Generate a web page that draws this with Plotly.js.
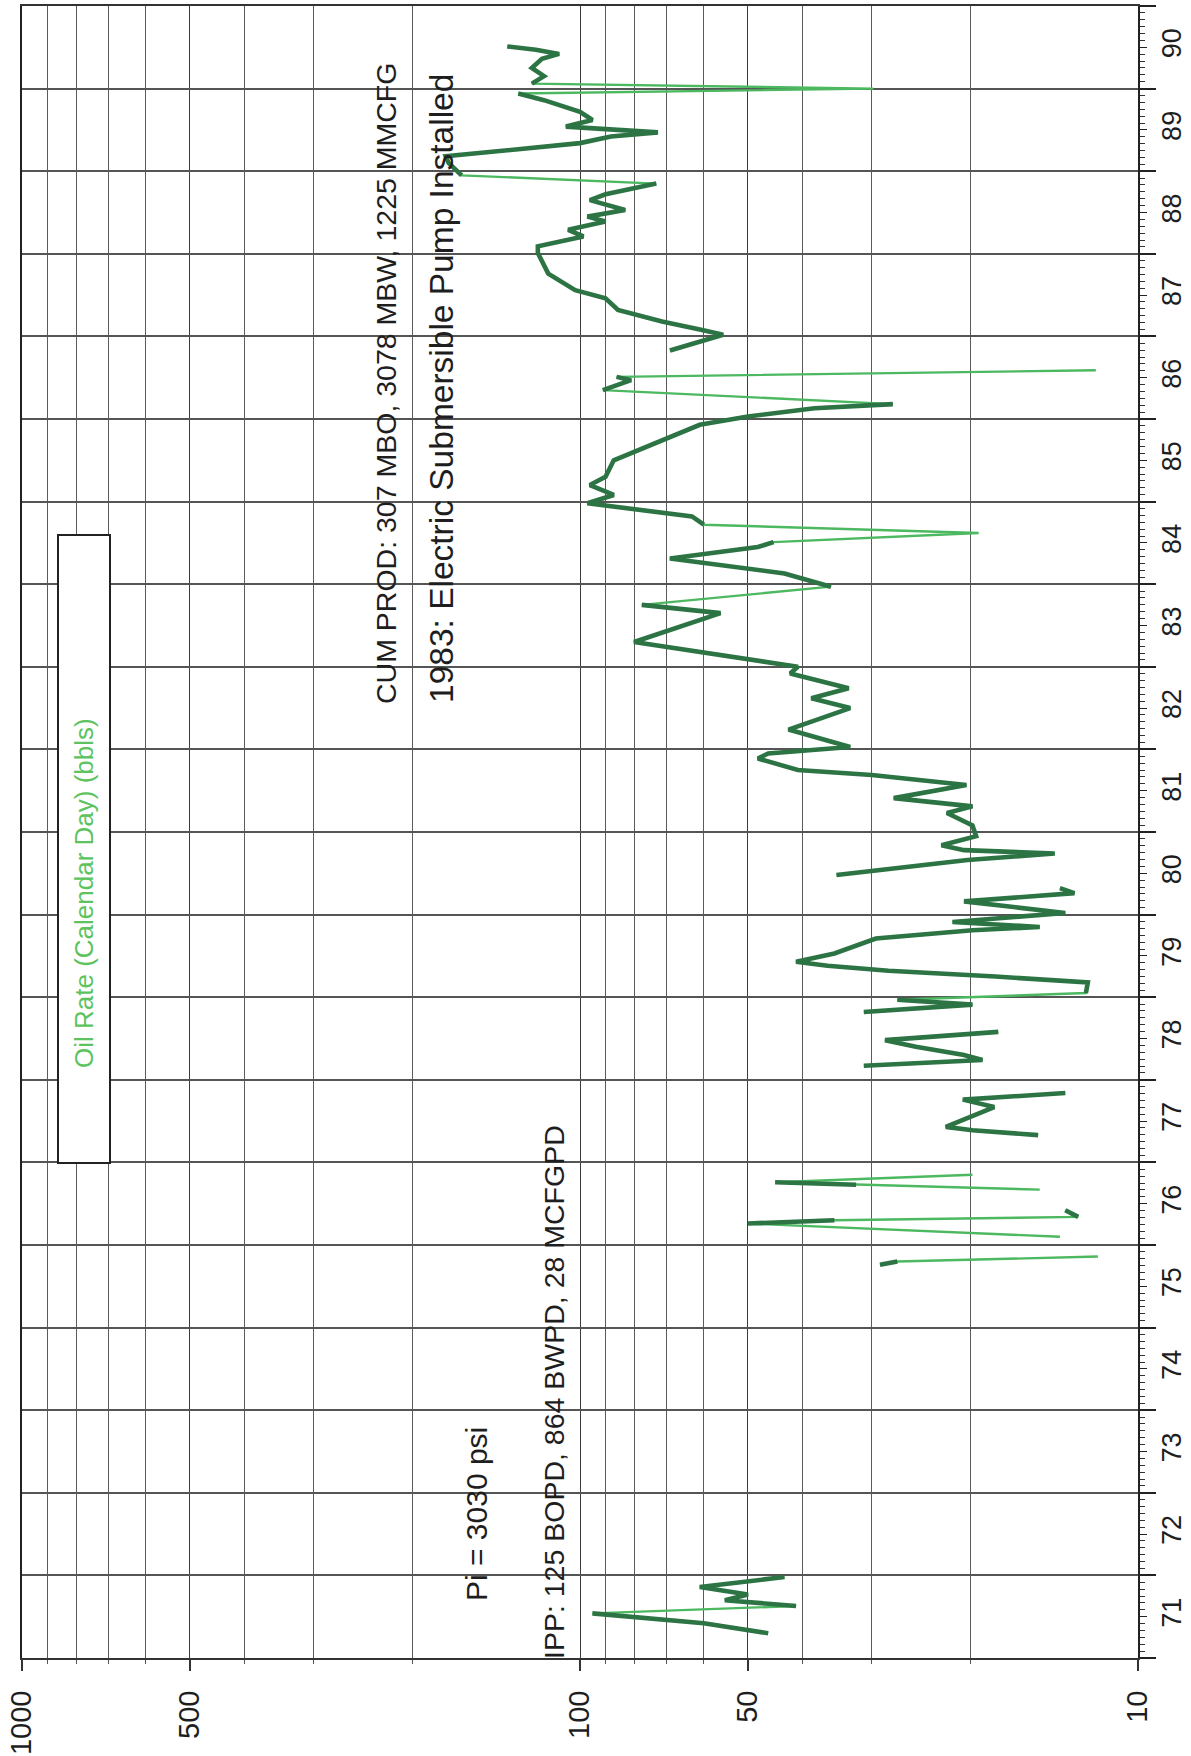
<!DOCTYPE html>
<html>
<head>
<meta charset="utf-8">
<script src="https://cdn.plot.ly/plotly-3.0.1.min.js"></script>
<style>
  html, body { margin: 0; padding: 0; background: #ffffff; }
  #chart { width: 1191px; height: 1756px; }
</style>
</head>
<body>
<div id="chart"></div>
<script>
// ---- data (rate in bbl/day vs. production date, decimal years) ----
const years = [
  1971.30, 1971.42, 1971.54, 1971.63, 1971.70, 1971.77, 1971.86, 1971.98,
  1972.10,
  1975.76, 1975.80, 1975.86,
  1976.00,
  1976.10, 1976.26, 1976.30, 1976.34, 1976.42,
  1976.55,
  1976.67, 1976.73, 1976.76, 1976.85,
  1977.10,
  1977.33, 1977.39, 1977.43, 1977.67, 1977.76, 1977.84,
  1978.00,
  1978.17, 1978.24, 1978.30, 1978.40, 1978.48, 1978.58,
  1978.70,
  1978.82, 1978.91, 1978.97, 1979.05, 1979.18, 1979.25, 1979.32, 1979.38,
  1979.43, 1979.53, 1979.71, 1979.81, 1979.85, 1979.91, 1980.02, 1980.16,
  1980.26, 1980.32,
  1980.40,
  1980.48, 1980.66, 1980.74, 1980.78, 1980.84, 1980.95, 1981.08, 1981.23,
  1981.31, 1981.41, 1981.57, 1981.69, 1981.75, 1981.89, 1981.95, 1982.03,
  1982.24, 1982.50, 1982.62, 1982.74, 1982.92, 1983.00, 1983.30, 1983.65,
  1983.75, 1983.97, 1984.13, 1984.31, 1984.45, 1984.51, 1984.62, 1984.72,
  1984.82, 1984.98, 1985.08, 1985.20, 1985.30, 1985.50, 1985.75, 1985.93,
  1986.03, 1986.13, 1986.18, 1986.35, 1986.47, 1986.51, 1986.59,
  1986.70,
  1986.83, 1987.02, 1987.08, 1987.18, 1987.32, 1987.46, 1987.56, 1987.76,
  1988.01, 1988.09, 1988.21, 1988.29, 1988.39, 1988.45, 1988.53, 1988.65,
  1988.72, 1988.85, 1988.95, 1989.10, 1989.18, 1989.34, 1989.42, 1989.47,
  1989.54, 1989.62, 1989.72, 1989.86, 1989.94, 1990.00, 1990.06, 1990.15,
  1990.25, 1990.36, 1990.42, 1990.47, 1990.51
];
const oilRate = [
  46, 60, 95, 41, 55, 50, 61, 43,
  null,
  29, 27, 11.8,
  null,
  13.8, 50, 35, 12.8, 13.5,
  null,
  15, 32, 44.7, 19.8,
  null,
  15.1, 19.8, 22.1, 18.1, 20.6, 13.5,
  null,
  31, 19, 20.5, 25, 28.4, 17.8,
  null,
  31, 19.8, 27, 12.4, 12.3, 18, 28, 36,
  41, 35, 29.5, 19.8, 15, 21.5, 13.5, 20.5,
  13.0, 13.8,
  null,
  34.7, 20.2, 14.1, 20.5, 22.5, 19.5, 19.8, 22,
  19.8, 27.4, 20.3, 30, 40.7, 48, 46, 32.8,
  42.3, 32.8, 38.5, 33, 42, 40.7, 80, 56,
  77.5, 35.5, 43, 69, 48, 45, 19.3, 60,
  63, 97, 87, 96, 90, 87, 71, 61,
  50, 38, 27.5, 91, 81, 86, 11.9,
  null,
  69, 55.4, 60.7, 71.3, 85.5, 90, 102, 114,
  119, 119, 98.6, 105, 90, 97, 83, 96,
  90, 73, 163, 172, 174, 100, 88, 72.5,
  106, 95, 100, 116, 129, 29.8, 122, 116,
  122, 117, 109, 120, 135
];

const rateTickVals   = [10, 50, 100, 500, 1000];
const rateTickText   = ['10', '50', '100', '500', '1000'];
const rateMinorVals  = [20, 30, 40, 60, 70, 80, 90, 200, 300, 400, 600, 700, 800, 900];
const yearLabels     = ['71','72','73','74','75','76','77','78','79','80',
                        '81','82','83','84','85','86','87','88','89','90'];
const yearStart = 1971, yearEnd = 1991;

// ---- derived tables ----
const yearMid = yearLabels.map((_, i) => yearStart + i + 0.5);
const yearGrid = [];
for (let y = yearStart; y <= yearEnd; y++) yearGrid.push(y);

// pen plotter: long fast moves come out as thin light strokes,
// short moves as heavy dark strokes
function darkPart(xs, ys, thr) {
  const dx = [], dy = [];
  for (let i = 0; i < xs.length; i++) {
    dx.push(xs[i]); dy.push(ys[i]);
    if (i < xs.length - 1 && xs[i] != null && xs[i + 1] != null &&
        Math.abs(Math.log10(xs[i + 1]) - Math.log10(xs[i])) > thr) {
      dx.push(null); dy.push((ys[i] + ys[i + 1]) / 2);
    }
  }
  return {x: dx, y: dy};
}
const dark = darkPart(oilRate, years, 0.3);

const W = 1191, H = 1756;
const L = 22, R = 1138, T = 6, B = 1658;
const px = X => (X - L) / (R - L);
const py = Y => (B - Y) / (B - T);

const regular = 'Liberation Sans, Arial, Helvetica, sans-serif';

const traces = [
  {x: oilRate, y: years, type: 'scatter', mode: 'lines', connectgaps: false,
   line: {color: '#4cb860', width: 2.4}, showlegend: false, hoverinfo: 'skip'},
  {x: dark.x, y: dark.y, type: 'scatter', mode: 'lines', connectgaps: false,
   line: {color: '#2d7445', width: 4.6}, showlegend: false, hoverinfo: 'skip'},
  {x: [null], y: [null], yaxis: 'y2', type: 'scatter', mode: 'lines',
   showlegend: false, hoverinfo: 'skip'}
];

const layout = {
  width: W, height: H,
  margin: {l: L, r: W - R, t: T, b: H - B, pad: 0},
  paper_bgcolor: '#ffffff', plot_bgcolor: '#ffffff',
  showlegend: false, hovermode: false,
  xaxis: {
    type: 'log', range: [3, 1], fixedrange: true,
    tickmode: 'array', tickvals: rateTickVals, ticktext: rateTickText,
    ticks: 'outside', ticklen: 11, tickwidth: 2, tickcolor: '#333',
    tickangle: -90, ticklabelstandoff: 8,
    tickfont: {family: regular, size: 29, color: '#1e1e1e'},
    showgrid: true, gridcolor: '#3c3c3c', gridwidth: 1,
    minor: {tickmode: 'array', tickvals: rateMinorVals, ticks: 'outside',
            ticklen: 4, tickcolor: '#555', tickwidth: 1, showgrid: true,
            gridcolor: '#5a5a5a', gridwidth: 1},
    showline: true, mirror: true, linecolor: '#333', linewidth: 2,
    zeroline: false
  },
  // year boundaries: grid lines + long ticks; monthly ruler as minor ticks
  yaxis: {
    range: [yearStart, yearEnd], side: 'right', fixedrange: true,
    tickmode: 'array', tickvals: yearGrid,
    ticks: 'outside', ticklen: 16, tickwidth: 2, tickcolor: '#222',
    showticklabels: false,
    showgrid: true, gridcolor: '#555555', gridwidth: 2,
    minor: {tickmode: 'linear', tick0: yearStart, dtick: 1 / 12,
            ticks: 'outside', ticklen: 5, tickwidth: 1, tickcolor: '#333',
            showgrid: false},
    showline: true, mirror: true, linecolor: '#222', linewidth: 2,
    zeroline: false
  },
  // year labels at mid-year
  yaxis2: {
    overlaying: 'y', side: 'right', range: [yearStart, yearEnd], fixedrange: true,
    tickmode: 'array', tickvals: yearMid, ticktext: yearLabels,
    ticks: 'outside', ticklen: 8, tickwidth: 1, tickcolor: '#222',
    tickangle: -90, ticklabelstandoff: 2,
    tickfont: {family: regular, size: 27, color: '#1e1e1e'},
    showgrid: false, zeroline: false, showline: false
  },
  shapes: [
    {type: 'rect', xref: 'paper', yref: 'paper', layer: 'above',
     x0: px(58), x1: px(110), y0: py(1163), y1: py(535),
     line: {color: '#222', width: 2}, fillcolor: '#ffffff'}
  ],
  annotations: [
    {text: 'Oil Rate (Calendar Day) (bbls)', xref: 'paper', yref: 'paper',
     x: px(84), y: py(893), xanchor: 'center', yanchor: 'middle',
     textangle: -90, showarrow: false,
     font: {family: regular, size: 26, color: '#5cc35e'}},
    {text: 'CUM PROD: 307 MBO, 3078 MBW, 1225 MMCFG', xref: 'paper', yref: 'paper',
     x: px(386), y: py(384), xanchor: 'center', yanchor: 'middle',
     textangle: -90, showarrow: false,
     font: {family: regular, size: 28.5, color: '#1e1e1e'}},
    {text: '1983: Electric Submersible Pump Installed', xref: 'paper', yref: 'paper',
     x: px(441), y: py(389), xanchor: 'center', yanchor: 'middle',
     textangle: -90, showarrow: false,
     font: {family: regular, size: 33.5, color: '#1e1e1e'}},
    {text: 'Pi = 3030 psi', xref: 'paper', yref: 'paper',
     x: px(476), y: py(1514), xanchor: 'center', yanchor: 'middle',
     textangle: -90, showarrow: false,
     font: {family: regular, size: 30, color: '#1e1e1e'}},
    {text: 'IPP: 125 BOPD, 864 BWPD, 28 MCFGPD', xref: 'paper', yref: 'paper',
     x: px(554), y: py(1392), xanchor: 'center', yanchor: 'middle',
     textangle: -90, showarrow: false,
     font: {family: regular, size: 28.5, color: '#1e1e1e'}}
  ]
};

Plotly.newPlot('chart', traces, layout, {staticPlot: true, displayModeBar: false});
</script>
</body>
</html>
